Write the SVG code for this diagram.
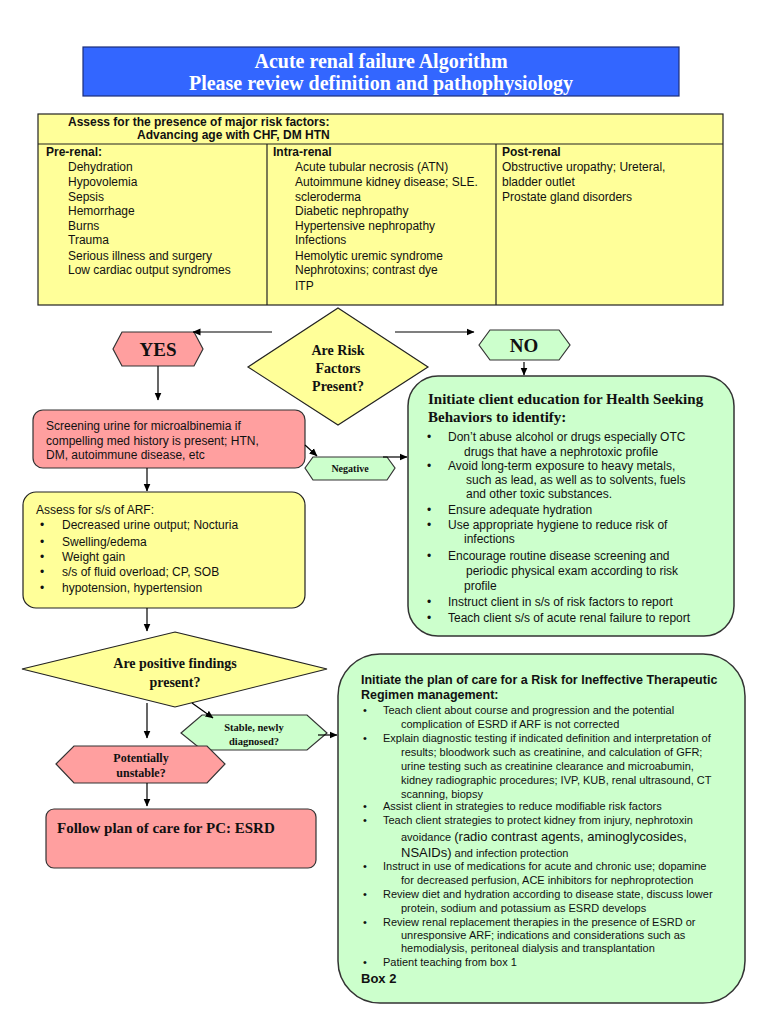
<svg xmlns="http://www.w3.org/2000/svg" width="768" height="1024" viewBox="0 0 768 1024">
<defs>
<marker id="ah" markerWidth="8" markerHeight="8" refX="7.5" refY="4" orient="auto" markerUnits="userSpaceOnUse"><path d="M0,0.5 L8,4 L0,7.5 z" fill="#000"/></marker>
</defs>
<style>
.sans{font-family:"Liberation Sans",Arial,sans-serif;fill:#111}
.serif{font-family:"Liberation Serif","Times New Roman",serif;font-weight:bold;fill:#111}
.s12{font-size:12px}
.b{font-weight:bold}
.yel{fill:#FFFF99;stroke:#222;stroke-width:1.2}
.pink{fill:#FF9F9F;stroke:#333;stroke-width:1.2}
.grn{fill:#CCFFCC;stroke:#333;stroke-width:1.5}
.conn line{stroke:#000;stroke-width:1.2;marker-end:url(#ah)}
.mid{text-anchor:middle}
</style>
<rect width="768" height="1024" fill="#fff"/>

<g id="title">
<rect x="83" y="47" width="596" height="49" fill="#3366FF" stroke="#1b2d7a" stroke-width="1.2"/>
<text class="serif mid" x="381" y="68" font-size="20" style="fill:#fff">Acute renal failure Algorithm</text>
<text class="serif mid" x="381" y="90" font-size="20" style="fill:#fff">Please review definition and pathophysiology</text>
</g>

<g id="risk-factors">
<rect x="38" y="114" width="685" height="191" fill="#FFFF99" stroke="#222" stroke-width="1.2"/>
<line x1="38" y1="144" x2="723" y2="144" stroke="#222" stroke-width="1.2"/>
<line x1="267" y1="144" x2="267" y2="305" stroke="#222" stroke-width="1.2"/>
<line x1="496" y1="144" x2="496" y2="305" stroke="#222" stroke-width="1.2"/>
<g class="sans s12">
<text x="68" y="126" class="b">Assess for the presence of major risk factors:</text>
<text x="137" y="139" class="b">Advancing age with CHF, DM HTN</text>
<text x="46" y="156" class="b">Pre-renal:</text>
<text x="68" y="171">Dehydration</text>
<text x="68" y="186">Hypovolemia</text>
<text x="68" y="201">Sepsis</text>
<text x="68" y="215">Hemorrhage</text>
<text x="68" y="230">Burns</text>
<text x="68" y="244">Trauma</text>
<text x="68" y="260">Serious illness and surgery</text>
<text x="68" y="274">Low cardiac output syndromes</text>
<text x="273" y="156" class="b">Intra-renal</text>
<text x="295" y="171">Acute tubular necrosis (ATN)</text>
<text x="295" y="186">Autoimmune kidney disease; SLE.</text>
<text x="295" y="201">scleroderma</text>
<text x="295" y="215">Diabetic nephropathy</text>
<text x="295" y="230">Hypertensive nephropathy</text>
<text x="295" y="244">Infections</text>
<text x="295" y="260">Hemolytic uremic syndrome</text>
<text x="295" y="274">Nephrotoxins; contrast dye</text>
<text x="295" y="290">ITP</text>
<text x="502" y="156" class="b">Post-renal</text>
<text x="502" y="171">Obstructive uropathy; Ureteral,</text>
<text x="502" y="186">bladder outlet</text>
<text x="502" y="201">Prostate gland disorders</text>
</g>
</g>

<g id="q-risk">
<polygon class="yel" points="338,308 428,367 338,425 248,367"/>
<text class="serif mid" x="338" y="355" font-size="14">Are Risk</text>
<text class="serif mid" x="338" y="373" font-size="14">Factors</text>
<text class="serif mid" x="338" y="391" font-size="14">Present?</text>
</g>

<g id="yes">
<polygon class="pink" points="113,349 122,332 194,332 203,349 194,366 122,366"/>
<text class="serif mid" x="158" y="356" font-size="19">YES</text>
</g>

<g id="no">
<polygon class="grn" points="479,345 490,330 559,330 570,345 559,360 490,360" style="stroke-width:1.2"/>
<text class="serif mid" x="524" y="352" font-size="19">NO</text>
</g>

<g id="screening">
<rect class="pink" x="33" y="410" width="272" height="58" rx="10"/>
<g class="sans s12">
<text x="46" y="430">Screening urine for microalbinemia if</text>
<text x="46" y="445">compelling med history is present; HTN,</text>
<text x="46" y="459">DM, autoimmune disease, etc</text>
</g>
</g>

<g id="negative">
<polygon class="grn" points="305,468 313,457 387,457 395,468 387,480 313,480" style="stroke-width:1.2"/>
<text class="serif mid" x="350" y="472" font-size="10">Negative</text>
</g>

<g id="assess-arf">
<rect class="yel" x="23" y="492" width="282" height="116" rx="13"/>
<g class="sans s12">
<text x="36" y="514">Assess for s/s of ARF:</text>
<text x="40" y="529">•</text><text x="62" y="529">Decreased urine output; Nocturia</text>
<text x="40" y="546">•</text><text x="62" y="546">Swelling/edema</text>
<text x="40" y="561">•</text><text x="62" y="561">Weight gain</text>
<text x="40" y="576">•</text><text x="62" y="576">s/s of fluid overload; CP, SOB</text>
<text x="40" y="592">•</text><text x="62" y="592">hypotension, hypertension</text>
</g>
</g>

<g id="box1">
<rect class="grn" x="408" y="376" width="326" height="260" rx="30"/>
<text class="serif" x="428" y="404" font-size="15">Initiate client education for Health Seeking</text>
<text class="serif" x="428" y="422" font-size="15">Behaviors to identify:</text>
<g class="sans s12">
<text x="427" y="441">•</text><text x="448" y="441">Don’t abuse alcohol or drugs especially OTC</text>
<text x="464" y="456">drugs that have a nephrotoxic profile</text>
<text x="427" y="470">•</text><text x="448" y="470">Avoid long-term exposure to heavy metals,</text>
<text x="466" y="484">such as lead, as well as to solvents, fuels</text>
<text x="466" y="498">and other toxic substances.</text>
<text x="427" y="514">•</text><text x="448" y="514">Ensure adequate hydration</text>
<text x="427" y="529">•</text><text x="448" y="529">Use appropriate hygiene to reduce risk of</text>
<text x="464" y="543">infections</text>
<text x="427" y="560">•</text><text x="448" y="560">Encourage routine disease screening and</text>
<text x="466" y="575">periodic physical exam according to risk</text>
<text x="464" y="590">profile</text>
<text x="427" y="606">•</text><text x="448" y="606">Instruct client in s/s of risk factors to report</text>
<text x="427" y="622">•</text><text x="448" y="622">Teach client s/s of acute renal failure to report</text>
</g>
</g>

<g id="q-findings">
<polygon class="yel" points="175,632 327,669 175,707 22,669"/>
<text class="serif mid" x="175" y="668" font-size="14">Are positive findings</text>
<text class="serif mid" x="175" y="687" font-size="14">present?</text>
</g>

<g id="stable">
<polygon class="grn" points="181,733 202,715 307,715 327,733 307,750 202,750" style="stroke-width:1.2"/>
<text class="serif mid" x="254" y="731" font-size="10.5">Stable, newly</text>
<text class="serif mid" x="254" y="745" font-size="10.5">diagnosed?</text>
</g>

<g id="unstable">
<polygon class="pink" points="56,764 74,746 207,746 225,764 207,783 74,783"/>
<text class="serif mid" x="141" y="762" font-size="12">Potentially</text>
<text class="serif mid" x="141" y="777" font-size="12">unstable?</text>
</g>

<g id="esrd">
<rect class="pink" x="46" y="809" width="270" height="59" rx="8"/>
<text class="serif" x="57" y="833" font-size="15">Follow plan of care for PC: ESRD</text>
</g>

<g id="box2">
<rect class="grn" x="338" y="654" width="407" height="349" rx="42"/>
<text class="sans b" x="361" y="684" font-size="12.5">Initiate the plan of care for a Risk for Ineffective Therapeutic</text>
<text class="sans b" x="361" y="699" font-size="12.5">Regimen management:</text>
<g class="sans" font-size="11">
<text x="363" y="714">•</text><text x="383" y="714">Teach client about course and progression and the potential</text>
<text x="401" y="728">complication of ESRD if ARF is not corrected</text>
<text x="363" y="742">•</text><text x="383" y="742">Explain diagnostic testing if indicated definition and interpretation of</text>
<text x="401" y="756">results; bloodwork such as creatinine, and calculation of GFR;</text>
<text x="401" y="770">urine testing such as creatinine clearance and microabumin,</text>
<text x="401" y="784">kidney radiographic procedures; IVP, KUB, renal ultrasound, CT</text>
<text x="401" y="798">scanning, biopsy</text>
<text x="363" y="810">•</text><text x="383" y="810">Assist client in strategies to reduce modifiable risk factors</text>
<text x="363" y="824">•</text><text x="383" y="824">Teach client strategies to protect kidney from injury, nephrotoxin</text>
<text x="401" y="841">avoidance <tspan font-size="13">(radio contrast agents, aminoglycosides,</tspan></text>
<text x="401" y="857"><tspan font-size="13">NSAIDs)</tspan> and infection protection</text>
<text x="363" y="870">•</text><text x="383" y="870">Instruct in use of medications for acute and chronic use; dopamine</text>
<text x="401" y="884">for decreased perfusion, ACE inhibitors for nephroprotection</text>
<text x="363" y="898">•</text><text x="383" y="898">Review diet and hydration according to disease state, discuss lower</text>
<text x="401" y="912">protein, sodium and potassium as ESRD develops</text>
<text x="363" y="926">•</text><text x="383" y="926">Review renal replacement therapies in the presence of ESRD or</text>
<text x="401" y="939">unresponsive ARF; indications and considerations such as</text>
<text x="401" y="952">hemodialysis, peritoneal dialysis and transplantation</text>
<text x="363" y="966">•</text><text x="383" y="966">Patient teaching from box 1</text>
</g>
<text class="sans b" x="361" y="983" font-size="13">Box 2</text>
</g>

<g id="connectors" class="conn">
<line x1="272" y1="332" x2="193" y2="332"/>
<line x1="395" y1="332" x2="474" y2="332"/>
<line x1="158" y1="366" x2="158" y2="400"/>
<line x1="524" y1="362" x2="524" y2="375"/>
<line x1="147" y1="468" x2="147" y2="491"/>
<line x1="305" y1="445" x2="317" y2="456"/>
<line x1="383" y1="457" x2="407" y2="457"/>
<line x1="147" y1="608" x2="147" y2="631"/>
<line x1="147" y1="703" x2="147" y2="738"/>
<line x1="192" y1="703" x2="213" y2="718"/>
<line x1="318" y1="735" x2="337" y2="735"/>
<line x1="147" y1="783" x2="147" y2="806"/>
</g>
</svg>
